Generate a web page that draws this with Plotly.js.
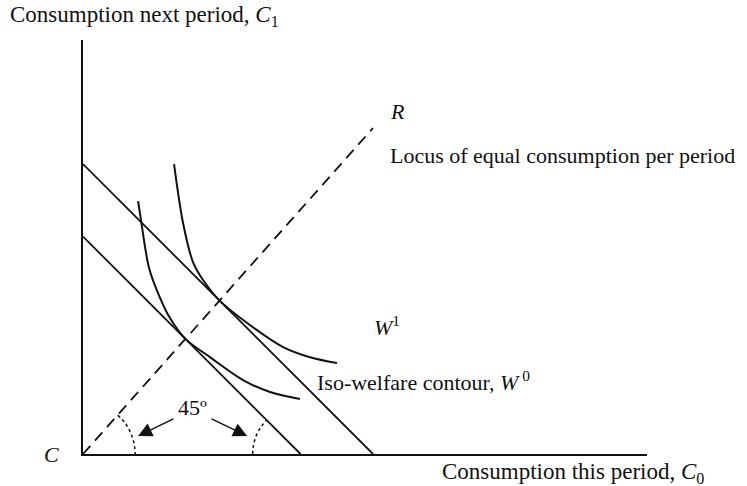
<!DOCTYPE html>
<html>
<head>
<meta charset="utf-8">
<script src="https://cdn.plot.ly/plotly-3.0.1.min.js"></script>
<style>html,body{margin:0;padding:0;background:#fff;}#chart{width:747px;height:486px;}</style>
</head>
<body>
<div id="chart"></div>
<script>
// Data (diagram units: origin C at the corner of the axes)
var budgetOuterX = [0, 10];
var budgetOuterY = [10, 0];
var budgetInnerX = [0, 7.5];
var budgetInnerY = [7.5, 0];
var equalLocusX = [0, 10];
var equalLocusY = [0, 11.24];
var w0X = [1.90, 2.00, 2.28, 2.66, 3.00, 3.53, 4.38, 5.52, 6.45, 7.48];
var w0Y = [8.72, 8.07, 6.41, 5.38, 4.69, 3.97, 3.34, 2.55, 2.14, 1.90];
var w1X = [3.14, 3.45, 3.80, 4.14, 4.71, 5.66, 6.90, 7.83, 8.76];
var w1Y = [10.00, 7.97, 6.60, 6.00, 5.29, 4.52, 3.69, 3.34, 3.14];
var arcLeftX = [1.20, 1.46, 1.64, 1.76, 1.80];
var arcLeftY = [1.34, 1.06, 0.73, 0.37, 0.00];
var arcRightX = [5.85, 5.88, 5.97, 6.13, 6.33];
var arcRightY = [0.00, 0.31, 0.62, 0.92, 1.17];
var arrowLeft = {tailX: 3.17, tailY: 1.24, headX: 1.90, headY: 0.62};
var arrowRight = {tailX: 4.38, tailY: 1.24, headX: 5.66, headY: 0.62};
var labels = {
  yTitle: 'Consumption next period, <i>C</i><sub>1</sub>',
  xTitle: 'Consumption this period, <i>C</i><sub>0</sub>',
  origin: 'C',
  locusEnd: 'R',
  locus: 'Locus of equal consumption per period',
  w1: '<i>W</i><sup>1</sup>',
  w0: 'Iso-welfare contour, <i>W</i><sup> 0</sup>',
  angle: '45º'
};

var FONT = 'Liberation Serif, Times New Roman, serif';
var FS = 22;
var INK = '#111111';

var traces = [
  {x: budgetOuterX, y: budgetOuterY, mode: 'lines', line: {color: INK, width: 1.8}},
  {x: budgetInnerX, y: budgetInnerY, mode: 'lines', line: {color: INK, width: 1.8}},
  {x: equalLocusX, y: equalLocusY, mode: 'lines', line: {color: INK, width: 1.8, dash: '11px,7px'}},
  {x: w0X, y: w0Y, mode: 'lines', line: {color: INK, width: 2, shape: 'spline', smoothing: 0.9}},
  {x: w1X, y: w1Y, mode: 'lines', line: {color: INK, width: 2, shape: 'spline', smoothing: 0.9}},
  {x: arcLeftX, y: arcLeftY, mode: 'lines', line: {color: INK, width: 1.5, dash: 'dot', shape: 'spline'}},
  {x: arcRightX, y: arcRightY, mode: 'lines', line: {color: INK, width: 1.5, dash: 'dot', shape: 'spline'}}
];

function txt(t, x, y, opts) {
  var a = {text: t, x: x, y: y, xref: 'x', yref: 'y', showarrow: false,
           xanchor: 'left', yanchor: 'middle',
           font: {family: FONT, size: FS, color: INK}};
  for (var k in (opts || {})) a[k] = opts[k];
  return a;
}
function arrow(a) {
  return {x: a.headX, y: a.headY, ax: a.tailX, ay: a.tailY, xref: 'x', yref: 'y',
          axref: 'x', ayref: 'y', text: '', showarrow: true, arrowhead: 2,
          arrowsize: 2, arrowwidth: 1.4, arrowcolor: INK, standoff: 0};
}

var annotations = [
  txt(labels.yTitle, -0.133, 1.058, {xref: 'paper', yref: 'paper', font: {family: FONT, size: 23, color: INK}}),
  txt(labels.xTitle, 0.633, -0.046, {xref: 'paper', yref: 'paper', font: {family: FONT, size: 23, color: INK}}),
  txt('<i>' + labels.origin + '</i>', -0.055, 0, {xref: 'paper', yref: 'paper', xanchor: 'center'}),
  txt('<i>' + labels.locusEnd + '</i>', 10.83, 11.83, {xanchor: 'center'}),
  txt(labels.locus, 10.52, 10.31),
  txt(labels.w1, 9.95, 4.41),
  txt(labels.w0, 8.0, 2.52),
  txt(labels.angle, 3.79, 1.62, {xanchor: 'center'}),
  arrow(arrowLeft),
  arrow(arrowRight)
];

var layout = {
  width: 747, height: 486,
  margin: {l: 83, r: 100, t: 40, b: 32, pad: 0},
  paper_bgcolor: '#ffffff', plot_bgcolor: '#ffffff',
  showlegend: false,
  xaxis: {range: [0, 19.45], showline: true, linecolor: INK, linewidth: 1.8,
          showgrid: false, zeroline: false, showticklabels: false, ticks: '', fixedrange: true},
  yaxis: {range: [0, 14.28], showline: true, linecolor: INK, linewidth: 1.8,
          showgrid: false, zeroline: false, showticklabels: false, ticks: '', fixedrange: true},
  annotations: annotations
};

Plotly.newPlot('chart', traces, layout, {displayModeBar: false, staticPlot: true});
</script>
</body>
</html>
